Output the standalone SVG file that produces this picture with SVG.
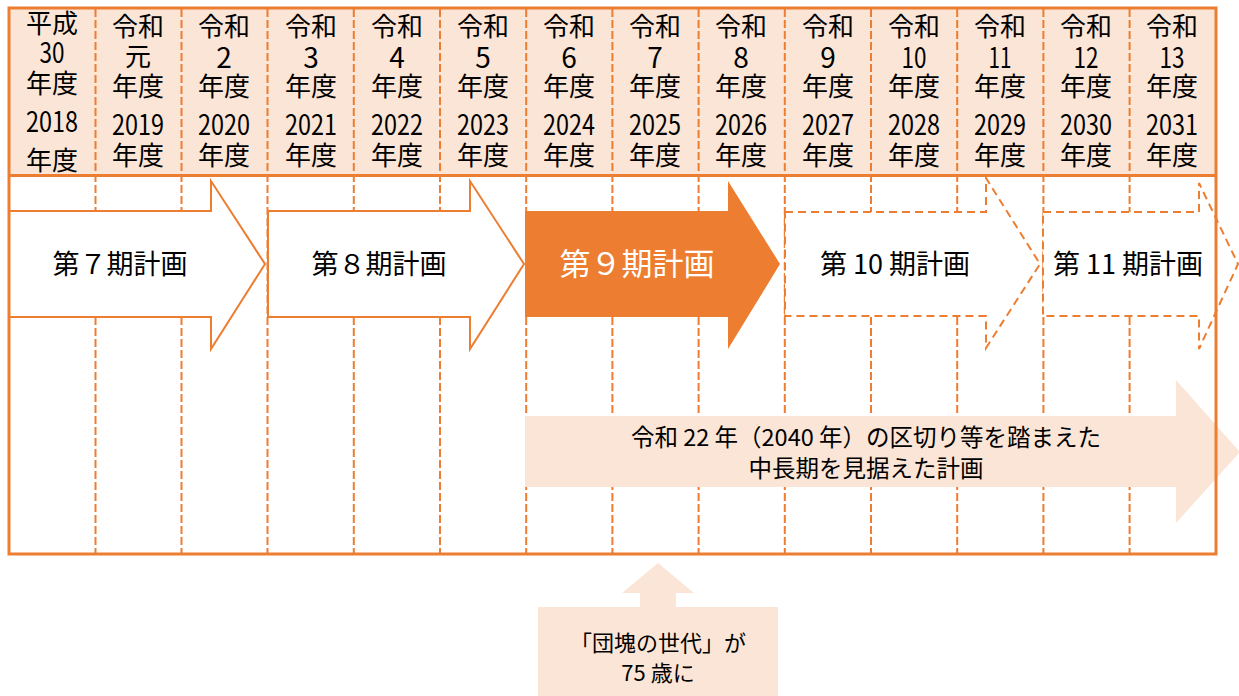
<svg xmlns="http://www.w3.org/2000/svg" width="1239" height="696" viewBox="0 0 1239 696">
<style>
text{font-family:"Noto Sans CJK JP","Noto Sans",sans-serif;fill:#000;text-anchor:middle}
.h{font-size:26px}
.d{font-size:28px}
.lab{font-size:27px}
.big{font-size:23.5px}
.div{stroke:#ED7D31;stroke-width:2;stroke-dasharray:8 3;fill:none}
.frame{stroke:#ED7D31;stroke-width:3;fill:none}
.arr{fill:#fff;stroke:#ED7D31;stroke-width:2}
.arrd{fill:#fff;stroke:#ED7D31;stroke-width:2;stroke-dasharray:8 5}
.pale{fill:#FBE5D6}
</style>
<rect x="9" y="8" width="1207" height="167" class="pale"/>
<g id="dividers">
<path class="div" d="M95.5 9V553M181.5 9V553M267.5 9V553M353.8 9V553M440 9V553M526.2 9V553M612.4 9V553M698.6 9V553M784.8 9V553M871 9V553M957.2 9V553M1043.4 9V553M1129.6 9V553"/>
</g>
<g id="header">
<text class="h"><tspan x="52" y="33">平成</tspan><tspan class="d" x="52" y="63" textLength="25" lengthAdjust="spacingAndGlyphs">30</tspan><tspan x="52" y="93">年度</tspan><tspan class="d" x="52" y="132" textLength="52" lengthAdjust="spacingAndGlyphs">2018</tspan><tspan x="52" y="170">年度</tspan></text>
<text class="h"><tspan x="138" y="36">令和</tspan><tspan x="138" y="66">元</tspan><tspan x="138" y="96">年度</tspan><tspan class="d" x="138" y="135" textLength="52" lengthAdjust="spacingAndGlyphs">2019</tspan><tspan x="138" y="165">年度</tspan></text>
<text class="h"><tspan x="224" y="36">令和</tspan><tspan class="d" x="224" y="68">2</tspan><tspan x="224" y="96">年度</tspan><tspan class="d" x="224" y="135" textLength="52" lengthAdjust="spacingAndGlyphs">2020</tspan><tspan x="224" y="165">年度</tspan></text>
<text class="h"><tspan x="311" y="36">令和</tspan><tspan class="d" x="311" y="68">3</tspan><tspan x="311" y="96">年度</tspan><tspan class="d" x="311" y="135" textLength="52" lengthAdjust="spacingAndGlyphs">2021</tspan><tspan x="311" y="165">年度</tspan></text>
<text class="h"><tspan x="397" y="36">令和</tspan><tspan class="d" x="397" y="68">4</tspan><tspan x="397" y="96">年度</tspan><tspan class="d" x="397" y="135" textLength="52" lengthAdjust="spacingAndGlyphs">2022</tspan><tspan x="397" y="165">年度</tspan></text>
<text class="h"><tspan x="483" y="36">令和</tspan><tspan class="d" x="483" y="68">5</tspan><tspan x="483" y="96">年度</tspan><tspan class="d" x="483" y="135" textLength="52" lengthAdjust="spacingAndGlyphs">2023</tspan><tspan x="483" y="165">年度</tspan></text>
<text class="h"><tspan x="569" y="36">令和</tspan><tspan class="d" x="569" y="68">6</tspan><tspan x="569" y="96">年度</tspan><tspan class="d" x="569" y="135" textLength="52" lengthAdjust="spacingAndGlyphs">2024</tspan><tspan x="569" y="165">年度</tspan></text>
<text class="h"><tspan x="655" y="36">令和</tspan><tspan class="d" x="655" y="68">7</tspan><tspan x="655" y="96">年度</tspan><tspan class="d" x="655" y="135" textLength="52" lengthAdjust="spacingAndGlyphs">2025</tspan><tspan x="655" y="165">年度</tspan></text>
<text class="h"><tspan x="741" y="36">令和</tspan><tspan class="d" x="741" y="68">8</tspan><tspan x="741" y="96">年度</tspan><tspan class="d" x="741" y="135" textLength="52" lengthAdjust="spacingAndGlyphs">2026</tspan><tspan x="741" y="165">年度</tspan></text>
<text class="h"><tspan x="828" y="36">令和</tspan><tspan class="d" x="828" y="68">9</tspan><tspan x="828" y="96">年度</tspan><tspan class="d" x="828" y="135" textLength="52" lengthAdjust="spacingAndGlyphs">2027</tspan><tspan x="828" y="165">年度</tspan></text>
<text class="h"><tspan x="914" y="36">令和</tspan><tspan class="d" x="914" y="68" textLength="25" lengthAdjust="spacingAndGlyphs">10</tspan><tspan x="914" y="96">年度</tspan><tspan class="d" x="914" y="135" textLength="52" lengthAdjust="spacingAndGlyphs">2028</tspan><tspan x="914" y="165">年度</tspan></text>
<text class="h"><tspan x="1000" y="36">令和</tspan><tspan class="d" x="1000" y="68" textLength="23" lengthAdjust="spacingAndGlyphs">11</tspan><tspan x="1000" y="96">年度</tspan><tspan class="d" x="1000" y="135" textLength="52" lengthAdjust="spacingAndGlyphs">2029</tspan><tspan x="1000" y="165">年度</tspan></text>
<text class="h"><tspan x="1086" y="36">令和</tspan><tspan class="d" x="1086" y="68" textLength="25" lengthAdjust="spacingAndGlyphs">12</tspan><tspan x="1086" y="96">年度</tspan><tspan class="d" x="1086" y="135" textLength="52" lengthAdjust="spacingAndGlyphs">2030</tspan><tspan x="1086" y="165">年度</tspan></text>
<text class="h"><tspan x="1172" y="36">令和</tspan><tspan class="d" x="1172" y="68" textLength="25" lengthAdjust="spacingAndGlyphs">13</tspan><tspan x="1172" y="96">年度</tspan><tspan class="d" x="1172" y="135" textLength="52" lengthAdjust="spacingAndGlyphs">2031</tspan><tspan x="1172" y="165">年度</tspan></text>
</g>
<g id="plan7">
<path class="arr" d="M9 211H211V181L265 264L211 349V317H9Z"/>
<text class="lab" x="120" y="274">第７期計画</text>
</g>
<g id="plan8">
<path class="arr" d="M268 211H470V181L524 264L470 349V317H268Z"/>
<text class="lab" x="379" y="274">第８期計画</text>
</g>
<g id="plan9">
<path fill="#ED7D31" d="M525 211H728V181L780 264L728 349V317H525Z"/>
<text x="637" y="275" style="font-size:31px;fill:#fff">第９期計画</text>
</g>
<g id="plan10">
<path class="arrd" d="M785 212H986V178L1040 264L986 348V316H785Z"/>
<text class="lab" x="895" y="274">第 10 期計画</text>
</g>
<g id="plan11">
<path class="arrd" d="M1043 212H1199V183L1238 264L1199 349V316H1043Z"/>
<text class="lab" x="1128" y="274">第 11 期計画</text>
</g>
<g id="longterm">
<path class="pale" d="M525 416H1176V380L1240 452L1176 523V487H525Z"/>
<text class="big"><tspan x="866" y="446">令和 22 年（2040 年）の区切り等を踏まえた</tspan><tspan x="866" y="477">中長期を見据えた計画</tspan></text>
</g>
<rect class="frame" x="9" y="8" width="1207" height="546"/>
<path class="frame" d="M9 175.5H1216"/>
<g id="dankai">
<path class="pale" d="M658 563L694 593H676V607H778V696H538V607H640V593H622Z"/>
<text style="font-size:22px"><tspan x="658" y="651">「団塊の世代」が</tspan><tspan x="658" y="681">75 歳に</tspan></text>
</g>
</svg>
